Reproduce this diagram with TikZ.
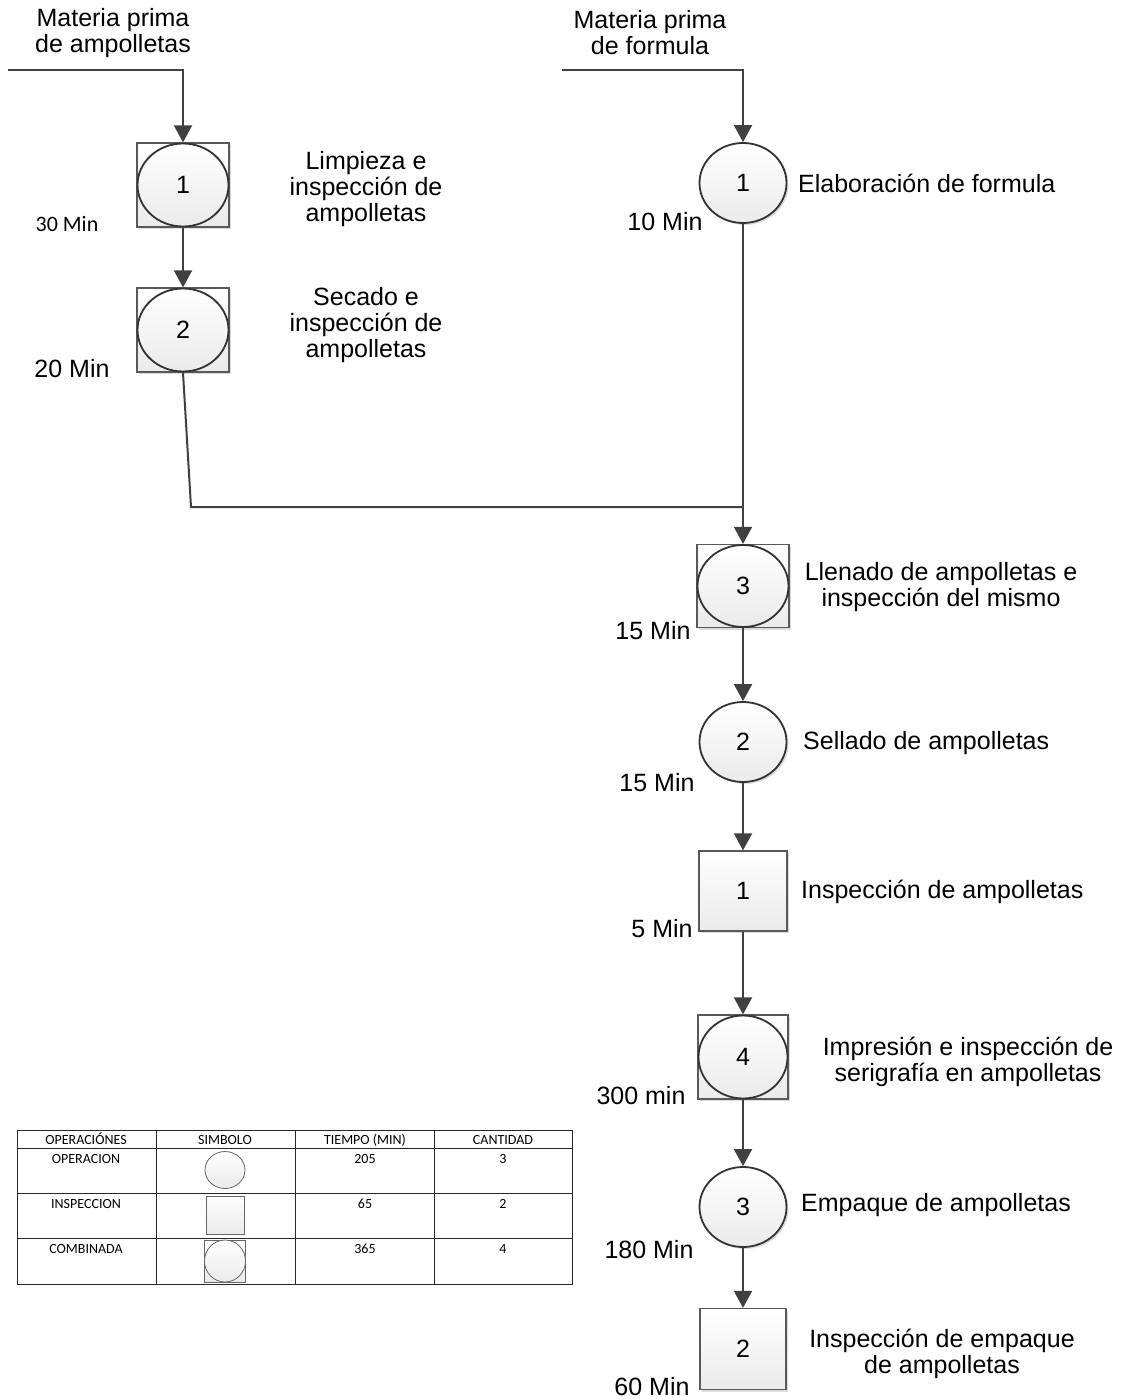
\documentclass[tikz,border=0pt]{standalone}
\usepackage{fontspec}
\setmainfont{Liberation Sans}
\newfontfamily\calib{Carlito}
\usetikzlibrary{arrows.meta,shadows,shapes.geometric}
\begin{document}
\begin{tikzpicture}[x=1pt,y=-1pt,
  shd/.style={drop shadow={shadow xshift=2pt,shadow yshift=-2pt,fill=black!30,opacity=0.45}},
  sqn/.style={rectangle, draw=black!65, line width=1.3pt, top color=white, bottom color=black!8, shd, inner sep=0pt, font=\fontsize{25}{26}\selectfont},
  ovn/.style={ellipse, draw=black!80, line width=1.8pt, top color=white, bottom color=black!8, inner sep=0pt, font=\fontsize{25}{26}\selectfont},
  ovs/.style={ovn, shd},
  flow/.style={draw=black!75, line width=2pt, -{Triangle[width=18pt,length=17pt]}},
  wire/.style={draw=black!75, line width=2pt},
  lbl/.style={font=\fontsize{25}{26}\selectfont, align=center, inner sep=0pt},
  tmin/.style={font=\fontsize{25}{26}\selectfont, inner sep=0pt},
  tcell/.style={font=\calib\fontsize{14}{16}\selectfont, inner sep=0pt, anchor=base},
  tline/.style={draw=black!85, line width=1pt},
  tsym/.style={draw=black!60, line width=0.8pt, top color=white, bottom color=black!8, inner sep=0pt}
]
\useasboundingbox (0,0) rectangle (1132,1399);

% ---- left column ----
\node[lbl] (inL) at (113,33) {Materia prima\\de ampolletas};
\coordinate (sL) at (8,70);
\coordinate (kL) at (183,70);
\node[sqn, minimum width=92, minimum height=84] (c1) at (183,185) {};
\node[ovn, minimum width=91, minimum height=83] (c1o) at (c1) {1};
\node[sqn, minimum width=92, minimum height=84] (c2) at (183,330) {};
\node[ovn, minimum width=91, minimum height=83] (c2o) at (c2) {2};
\node[lbl] (t1) at (366,189) {Limpieza e\\inspección de\\ampolletas};
\node[tmin, font=\calib\fontsize{22}{24}\selectfont] (m1) at (67,224) {30 Min};
\node[lbl] (t2) at (366,325) {Secado e\\inspección de\\ampolletas};
\node[tmin] (m2) at (72,369) {20 Min};

% ---- right column ----
\node[lbl] (inR) at (650,33) {Materia prima\\de formula};
\coordinate (sR) at (562,70);
\coordinate (kR) at (743,70);
\node[ovs, minimum width=87, minimum height=80] (o1) at (743,183) {1};
\node[lbl, anchor=west] (t3) at (798,183) {Elaboración de formula};
\node[tmin] (m3) at (665,222) {10 Min};

\coordinate (jL) at (191,507);
\coordinate (jR) at (743,507);

\node[sqn, minimum width=92, minimum height=83] (c3) at (743,586) {};
\node[ovn, minimum width=91, minimum height=82] (c3o) at (c3) {3};
\node[lbl] (t4) at (941,587) {Llenado de ampolletas e\\inspección del mismo};
\node[tmin] (m4) at (653,631) {15 Min};

\node[ovs, minimum width=87, minimum height=80] (o2) at (743,742) {2};
\node[lbl, anchor=west] (t5) at (803,743) {Sellado de ampolletas};
\node[tmin] (m5) at (657,783) {15 Min};

\node[sqn, minimum width=88, minimum height=80] (i1) at (743,891) {1};
\node[lbl, anchor=west] (t6) at (801,892) {Inspección de ampolletas};
\node[tmin] (m6) at (662,929) {5 Min};

\node[sqn, minimum width=90, minimum height=84] (c4) at (743,1057) {};
\node[ovn, minimum width=89, minimum height=83] (c4o) at (c4) {4};
\node[lbl] (t7) at (968,1062) {Impresión e inspección de\\serigrafía en ampolletas};
\node[tmin] (m7) at (641,1096) {300 min};

\node[ovs, minimum width=87, minimum height=80] (o3) at (743,1207) {3};
\node[lbl, anchor=west] (t8) at (801,1205) {Empaque de ampolletas};
\node[tmin] (m8) at (649,1250) {180 Min};

\node[sqn, minimum width=86, minimum height=81] (i2) at (743,1349) {2};
\node[lbl] (t9) at (942,1354) {Inspección de empaque\\de ampolletas};
\node[tmin] (m9) at (652,1387) {60 Min};

% ---- connectors ----
\draw[flow] (sL) -- (kL) -- (c1.north);
\draw[flow] (c1.south) -- (c2.north);
\draw[flow] (sR) -- (kR) -- (o1.north);
\draw[flow] (o1.south) -- (c3.north);
\draw[wire] (c2.south) -- (jL) -- (jR);
\draw[flow] (c3.south) -- (o2.north);
\draw[flow] (o2.south) -- (i1.north);
\draw[flow] (i1.south) -- (c4.north);
\draw[flow] (c4.south) -- (o3.north);
\draw[flow] (o3.south) -- (i2.north);

% ---- table ----
\draw[tline] (17,1130) rectangle (572,1284);
\draw[tline] (17,1148) -- (572,1148);
\draw[tline] (17,1193) -- (572,1193);
\draw[tline] (17,1238) -- (572,1238);
\draw[tline] (156,1130) -- (156,1284);
\draw[tline] (295,1130) -- (295,1284);
\draw[tline] (434,1130) -- (434,1284);

\node[tcell] (h1) at (86,1144) {OPERACIÓNES};
\node[tcell] (h2) at (225,1144) {SIMBOLO};
\node[tcell] (h3) at (365,1144) {TIEMPO (MIN)};
\node[tcell] (h4) at (503,1144) {CANTIDAD};

\node[tcell] (r1a) at (86,1163) {OPERACION};
\node[tcell] (r1c) at (365,1163) {205};
\node[tcell] (r1d) at (503,1163) {3};
\node[tcell] (r2a) at (86,1208) {INSPECCION};
\node[tcell] (r2c) at (365,1208) {65};
\node[tcell] (r2d) at (503,1208) {2};
\node[tcell] (r3a) at (86,1253) {COMBINADA};
\node[tcell] (r3c) at (365,1253) {365};
\node[tcell] (r3d) at (503,1253) {4};

\node[tsym, ellipse, minimum width=40, minimum height=37] (s1) at (225,1170) {};
\node[tsym, rectangle, minimum width=38, minimum height=38] (s2) at (225,1215) {};
\node[tsym, rectangle, minimum width=41, minimum height=42] (s3) at (225,1261) {};
\node[tsym, ellipse, minimum width=41, minimum height=42] (s3o) at (s3) {};
\end{tikzpicture}
\end{document}
